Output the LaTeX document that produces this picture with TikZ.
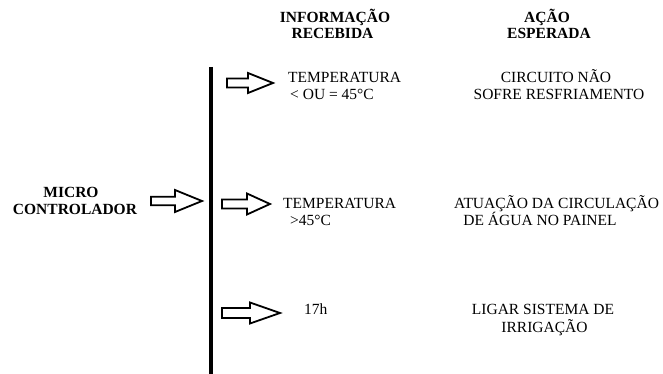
\documentclass[tikz,border=0pt]{standalone}
\usepackage{fontspec}
\setmainfont{Liberation Serif}
\begin{document}
\begin{tikzpicture}[x=1pt,y=-1pt,
  txt/.style={inner sep=0pt,font=\fontsize{15.5}{17}\selectfont},
  hdr/.style={txt,font=\fontsize{15.5}{17}\selectfont\bfseries},
  arrowline/.style={draw=black,fill=white,line width=1.8pt,line join=miter},
  pics/blk/.style n args={4}{code={
    \draw[arrowline] (0,-#3) -- (#1,-#3) -- (#1,-#4) -- (#1+#2,0) -- (#1,#4) -- (#1,#3) -- (0,#3) -- cycle;
  }}]
\useasboundingbox (0,0) rectangle (663,374);
% headers
\node[hdr,anchor=base] (h1a) at (335,23) {INFORMAÇÃO};
\node[hdr,anchor=base] (h1b) at (332.5,39) {RECEBIDA};
\node[hdr,anchor=base] (h2a) at (547,23) {AÇÃO};
\node[hdr,anchor=base] (h2b) at (549,39) {ESPERADA};
% vertical bar
\coordinate (bartop) at (211,67);
\coordinate (barbot) at (211,376);
\draw[line width=3.6pt] (bartop) -- (barbot);
% micro controller
\node[hdr,anchor=base] (mc1) at (71,197) {MICRO};
\node[hdr,anchor=base] (mc2) at (75,214) {CONTROLADOR};
\pic at (151,201) {blk={24}{27}{4.2}{11}};
% row 1
\pic at (227,83) {blk={21}{25}{4.5}{10}};
\node[txt,anchor=base west] (r1a) at (288,83) {TEMPERATURA};
\node[txt,anchor=base west] (r1b) at (290,100) {< OU = 45°C};
\node[txt,anchor=base] (a1a) at (556,83) {CIRCUITO NÃO};
\node[txt,anchor=base] (a1b) at (559,100) {SOFRE RESFRIAMENTO};
% row 2
\pic at (222,204) {blk={25}{23}{4.5}{10.5}};
\node[txt,anchor=base west] (r2a) at (283,208) {TEMPERATURA};
\node[txt,anchor=base west] (r2b) at (290,225) {>45°C};
\node[txt,anchor=base] (a2a) at (556.5,208) {ATUAÇÃO DA CIRCULAÇÃO};
\node[txt,anchor=base] (a2b) at (540,225) {DE ÁGUA NO PAINEL};
% row 3
\pic at (222,313) {blk={28}{30}{5}{10.5}};
\node[txt,anchor=base west] (r3a) at (304,314) {17h};
\node[txt,anchor=base] (a3a) at (543,314) {LIGAR SISTEMA DE};
\node[txt,anchor=base] (a3b) at (544.5,332) {IRRIGAÇÃO};
\end{tikzpicture}
\end{document}
